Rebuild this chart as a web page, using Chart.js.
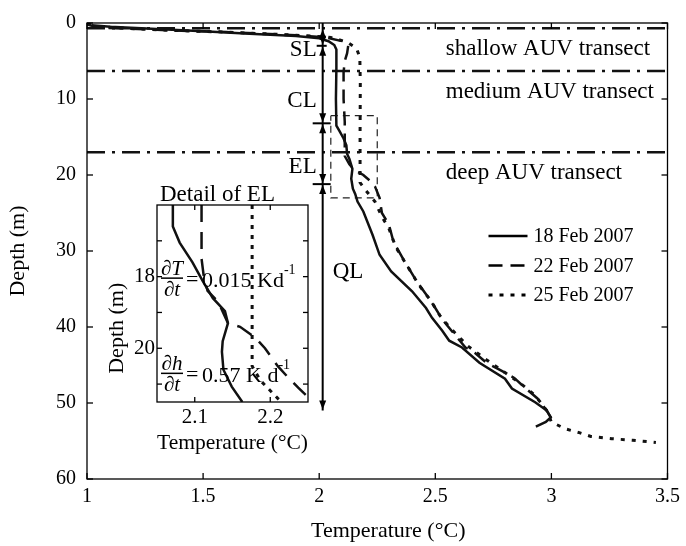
<!DOCTYPE html>
<html>
<head>
<meta charset="utf-8">
<script src="https://cdn.jsdelivr.net/npm/chart.js@4.4.1/dist/chart.umd.min.js"></script>
<style>
  body { margin: 0; background: #fff; }
  #wrap { position: relative; width: 686px; height: 546px; }
  #main { position: absolute; left: 0; top: 0; }
  #inset { position: absolute; left: 100px; top: 180px; }
</style>
</head>
<body>
<div id="wrap">
  <canvas id="main" width="686" height="546"></canvas>
  <canvas id="inset" width="215" height="282"></canvas>
</div>
<script>
// Main axes
const tempTicks = [1, 1.5, 2, 2.5, 3, 3.5];
const depthTicks = [0, 10, 20, 30, 40, 50, 60];

// Temperature profiles (T in degC, depth in m)
const feb18Temp  = [1.02, 1.10, 1.30, 1.50, 1.70, 1.90, 2.00, 2.04, 2.065, 2.074, 2.074, 2.072, 2.074, 2.087, 2.105, 2.117, 2.12, 2.13, 2.143, 2.138, 2.145, 2.155, 2.165, 2.19, 2.23, 2.26, 2.31, 2.40, 2.46, 2.486, 2.53, 2.56, 2.615, 2.69, 2.80, 2.83, 2.93, 2.98, 2.997, 2.976, 2.933];
const feb18Depth = [0.3, 0.5, 0.8, 1.1, 1.4, 1.7, 2.0, 2.4, 2.9, 3.5, 6, 10, 13.5, 14.2, 15.2, 16.1, 17.2, 17.9, 19.2, 20.5, 21.8, 22.5, 23.5, 24.8, 27.9, 30.5, 32.7, 35.3, 37.5, 38.8, 40.5, 41.8, 42.7, 44.7, 46.8, 48.1, 49.9, 51, 51.9, 52.5, 53.1];

const feb22Temp  = [1.00, 1.05, 1.30, 1.60, 1.90, 2.03, 2.10, 2.125, 2.12, 2.11, 2.105, 2.105, 2.11, 2.11, 2.11, 2.13, 2.15, 2.19, 2.22, 2.24, 2.26, 2.27, 2.30, 2.32, 2.37, 2.42, 2.46, 2.50, 2.53, 2.57, 2.63, 2.67, 2.72, 2.77, 2.84, 2.89, 2.94, 2.98, 3.00];
const feb22Depth = [0.2, 0.6, 0.9, 1.2, 1.6, 1.9, 2.4, 3.0, 4.0, 5.0, 6.5, 10, 13, 16, 17.5, 18.6, 19.3, 20, 20.8, 21.5, 23, 25, 26.5, 28.8, 31.5, 34, 35.7, 37.5, 39, 40.5, 42.7, 43.4, 44.7, 45.5, 46.7, 48.1, 49.4, 51, 52];

const feb25Temp  = [1.00, 1.05, 1.30, 1.60, 1.90, 2.05, 2.12, 2.16, 2.175, 2.177, 2.176, 2.176, 2.20, 2.24, 2.27, 2.30, 2.33, 2.38, 2.43, 2.48, 2.52, 2.56, 2.64, 2.72, 2.80, 2.87, 2.93, 2.98, 3.00, 3.06, 3.12, 3.17, 3.26, 3.35, 3.45];
const feb25Depth = [0.1, 0.5, 0.9, 1.2, 1.6, 1.9, 2.5, 3.3, 4.5, 8, 15, 21, 22, 23.5, 25.5, 27, 29.5, 32, 34.5, 36.5, 38.5, 40, 42.5, 44.3, 46, 47.5, 49, 51, 52.5, 53.4, 53.9, 54.4, 54.7, 54.9, 55.2];

const seriesLabels = ['18 Feb 2007', '22 Feb 2007', '25 Feb 2007'];

// AUV transects and layers
const transectDepths = [0.7, 6.3, 17];
const transectNames = ['shallow AUV transect', 'medium AUV transect', 'deep AUV transect'];
const layerTemp = 2.015;
const layerBounds = [0.7, 3.0, 13.2, 21.2, 51];
const layerNames = ['SL', 'CL', 'EL', 'QL'];
const layerLabelDepth = [3.5, 10.2, 19, 32.8];

// Area shown in the detail
const boxTemp = [2.05, 2.25];
const boxDepth = [12.2, 23];

// Inset (detail of EL)
const insetTempTicks = [2.1, 2.2];
const insetDepthTicks = [17, 18, 19, 20, 21];
const insetDepthLabels = [18, 20];
const insetFeb18Temp  = [2.071, 2.071, 2.08, 2.097, 2.111, 2.124, 2.14, 2.144, 2.137, 2.136, 2.138, 2.149, 2.163];
const insetFeb18Depth = [16.0, 16.6, 17.05, 17.6, 18.14, 18.6, 18.96, 19.3, 19.8, 20.1, 20.6, 21.07, 21.5];
const insetFeb22Temp  = [2.109, 2.109, 2.112, 2.117, 2.131, 2.144, 2.16, 2.18, 2.193, 2.21, 2.223, 2.237, 2.247, 2.255];
const insetFeb22Depth = [16.0, 17.5, 18.0, 18.4, 18.7, 19.3, 19.4, 19.7, 20.0, 20.5, 20.8, 21.1, 21.3, 21.45];
const insetFeb25Temp  = [2.176, 2.176, 2.187, 2.21, 2.215];
const insetFeb25Depth = [16.0, 20.5, 20.9, 21.4, 21.5];

const SERIF = '"Liberation Serif", "Times New Roman", serif';
Chart.defaults.font.family = SERIF;
Chart.defaults.color = '#000';

const pts = (t, d) => t.map((v, i) => ({ x: v, y: d[i] }));

const solidStyle  = { borderColor: '#111', borderWidth: 2.5, borderDash: [] };
const dashedStyle = { borderColor: '#111', borderWidth: 2.5, borderDash: [14, 8] };
const dottedStyle = { borderColor: '#111', borderWidth: 3, borderDash: [4, 7] };

function line(ctx, x1, y1, x2, y2) {
    ctx.beginPath(); ctx.moveTo(x1, y1); ctx.lineTo(x2, y2); ctx.stroke();
}

// box round the plot with inward ticks
const frame = {
    id: 'frame',
    afterDatasetsDraw(chart, args, opts) {
        const { ctx, chartArea: a, scales: { x, y } } = chart;
        const t = opts.tick || 5;
        ctx.save();
        ctx.strokeStyle = '#000';
        ctx.lineWidth = 1.3;
        ctx.setLineDash([]);
        ctx.strokeRect(a.left, a.top, a.right - a.left, a.bottom - a.top);
        x.ticks.forEach(tk => {
            const px = x.getPixelForValue(tk.value);
            line(ctx, px, a.bottom, px, a.bottom - t);
            line(ctx, px, a.top, px, a.top + t);
        });
        y.ticks.forEach(tk => {
            const py = y.getPixelForValue(tk.value);
            line(ctx, a.left, py, a.left + t, py);
            line(ctx, a.right, py, a.right - t, py);
        });
        ctx.restore();
    }
};

function arrowHead(ctx, px, py, dir) {
    ctx.beginPath();
    ctx.moveTo(px, py);
    ctx.lineTo(px - 3.5, py - dir * 9);
    ctx.lineTo(px + 3.5, py - dir * 9);
    ctx.closePath();
    ctx.fill();
}

const mainNotes = {
    id: 'mainNotes',
    afterDatasetsDraw(chart) {
        const { ctx, chartArea: a, scales: { x, y } } = chart;
        ctx.save();
        ctx.fillStyle = '#000';
        ctx.strokeStyle = '#000';

        // transect names
        ctx.font = '23px ' + SERIF;
        ctx.textAlign = 'left';
        ctx.textBaseline = 'middle';
        transectDepths.forEach((d, i) => {
            ctx.fillText(transectNames[i], x.getPixelForValue(2.545), y.getPixelForValue(d) + 21);
        });

        // layer arrow
        const ax = x.getPixelForValue(layerTemp);
        ctx.lineWidth = 2;
        line(ctx, ax, a.top, ax, y.getPixelForValue(layerBounds[layerBounds.length - 1]));
        layerBounds.forEach((d, i) => {
            const py = y.getPixelForValue(d);
            if (i > 0) arrowHead(ctx, ax, py - 1, 1);
            if (i < layerBounds.length - 1) arrowHead(ctx, ax, py + 1, -1);
            if (i > 0 && i < layerBounds.length - 1) {
                const w = i === 1 ? 4 : 8;
                line(ctx, ax - w - 2, py, ax + w, py);
            }
        });
        ctx.font = '23px ' + SERIF;
        layerNames.forEach((n, i) => {
            const py = y.getPixelForValue(layerLabelDepth[i]);
            if (n === 'QL') {
                ctx.textAlign = 'left';
                ctx.fillText(n, ax + 10, py);
            } else {
                ctx.textAlign = 'right';
                ctx.fillText(n, ax - 6, py);
            }
        });

        // legend
        ctx.font = '20px ' + SERIF;
        ctx.textAlign = 'left';
        for (let i = 0; i < 3; i++) {
            const ds = chart.data.datasets[i];
            const ly = a.top + 213 + i * 29.5;
            ctx.lineWidth = ds.borderWidth;
            ctx.setLineDash(ds.borderDash);
            line(ctx, a.right - 179, ly, a.right - 140, ly);
            ctx.setLineDash([]);
            ctx.fillText(ds.label, a.right - 134, ly + 1);
        }
        ctx.restore();
    }
};

const transectSets = transectDepths.map(d => ({
    label: 'transect',
    data: pts([1, 3.5], [d, d]),
    showLine: true, pointRadius: 0,
    borderColor: '#111', borderWidth: 2.5, borderDash: [18, 7, 3, 7]
}));

new Chart(document.getElementById('main'), {
    type: 'scatter',
    data: {
        datasets: [
            { label: seriesLabels[0], data: pts(feb18Temp, feb18Depth), showLine: true, pointRadius: 0, ...solidStyle },
            { label: seriesLabels[1], data: pts(feb22Temp, feb22Depth), showLine: true, pointRadius: 0, ...dashedStyle },
            { label: seriesLabels[2], data: pts(feb25Temp, feb25Depth), showLine: true, pointRadius: 0, ...dottedStyle },
            { label: 'detail', data: pts([boxTemp[0], boxTemp[1], boxTemp[1], boxTemp[0], boxTemp[0]], [boxDepth[0], boxDepth[0], boxDepth[1], boxDepth[1], boxDepth[0]]),
              showLine: true, pointRadius: 0, borderColor: '#222', borderWidth: 1.2, borderDash: [7, 5] },
            ...transectSets
        ]
    },
    options: {
        responsive: false,
        animation: false,
        events: [],
        layout: { padding: { top: 20, right: 17, left: 0, bottom: 0 } },
        plugins: { legend: { display: false }, tooltip: { enabled: false }, frame: { tick: 6 } },
        scales: {
            x: {
                type: 'linear', min: 1, max: 3.5,
                afterBuildTicks: s => { s.ticks = tempTicks.map(v => ({ value: v })); },
                afterFit: s => { s.height = 67; },
                grid: { display: false, drawTicks: false },
                border: { display: false },
                ticks: { font: { size: 20 }, padding: 6, maxRotation: 0, autoSkip: false, callback: v => String(v) },
                title: { display: true, text: '    Temperature (°C)', font: { size: 22 }, padding: { top: 0, bottom: 2 } }
            },
            y: {
                type: 'linear', reverse: true, min: 0, max: 60,
                afterBuildTicks: s => { s.ticks = depthTicks.map(v => ({ value: v })); },
                afterFit: s => { s.width = 87; },
                grid: { display: false, drawTicks: false },
                border: { display: false },
                ticks: { font: { size: 20 }, padding: 11, autoSkip: false, callback: v => String(v) },
                title: { display: true, text: 'Depth (m)', font: { size: 22 }, padding: { top: 5, bottom: 0 } }
            }
        }
    },
    plugins: [frame, mainNotes]
});

// inset: formulas and heading
function fraction(ctx, cx, by, num, den) {
    ctx.font = 'italic 21px ' + SERIF;
    ctx.textAlign = 'center';
    ctx.textBaseline = 'alphabetic';
    ctx.fillText(num, cx, by - 3);
    ctx.fillText(den, cx, by + 18);
    ctx.lineWidth = 1.5;
    line(ctx, cx - 11, by, cx + 11, by);
}

function rate(ctx, cx, by, num, value, unit) {
    fraction(ctx, cx, by, num, '\u2202t');
    ctx.font = '22px ' + SERIF;
    ctx.textAlign = 'left';
    ctx.fillText('=', cx + 14, by + 8);
    const vx = cx + 30;
    ctx.fillText(value + unit, vx, by + 9);
    const w = ctx.measureText(value + unit).width;
    ctx.font = '14px ' + SERIF;
    ctx.fillText('-1', vx + w, by - 4);
}

const insetNotes = {
    id: 'insetNotes',
    afterDatasetsDraw(chart) {
        const { ctx, chartArea: a, scales: { y } } = chart;
        ctx.save();
        ctx.fillStyle = '#000';
        ctx.strokeStyle = '#000';
        ctx.font = '23px ' + SERIF;
        ctx.textAlign = 'left';
        ctx.textBaseline = 'alphabetic';
        ctx.fillText('Detail of EL', a.left + 3, a.top - 4);
        rate(ctx, a.left + 15, y.getPixelForValue(18) + 1.5, '\u2202T', '0.015 ', 'Kd');
        rate(ctx, a.left + 15, y.getPixelForValue(20.7), '\u2202h', '0.57 ', 'K d');
        ctx.restore();
    }
};

new Chart(document.getElementById('inset'), {
    type: 'scatter',
    data: {
        datasets: [
            { label: seriesLabels[0], data: pts(insetFeb18Temp, insetFeb18Depth), showLine: true, pointRadius: 0, ...solidStyle },
            { label: seriesLabels[1], data: pts(insetFeb22Temp, insetFeb22Depth), showLine: true, pointRadius: 0, ...dashedStyle, borderDash: [17, 10] },
            { label: seriesLabels[2], data: pts(insetFeb25Temp, insetFeb25Depth), showLine: true, pointRadius: 0, ...dottedStyle, borderDash: [4, 6] }
        ]
    },
    options: {
        responsive: false,
        animation: false,
        events: [],
        layout: { padding: { top: 25, right: 7, left: 0, bottom: 0 } },
        plugins: { legend: { display: false }, tooltip: { enabled: false }, frame: { tick: 5 } },
        scales: {
            x: {
                type: 'linear', min: 2.05, max: 2.25,
                afterBuildTicks: s => { s.ticks = insetTempTicks.map(v => ({ value: v })); },
                afterFit: s => { s.height = 60; },
                grid: { display: false, drawTicks: false },
                border: { display: false },
                ticks: { font: { size: 21 }, padding: 3, maxRotation: 0, autoSkip: false, callback: v => String(v) },
                title: { display: true, text: 'Temperature (°C)', font: { size: 22 }, padding: { top: 0, bottom: 6 } }
            },
            y: {
                type: 'linear', reverse: true, min: 16, max: 21.5,
                afterBuildTicks: s => { s.ticks = insetDepthTicks.map(v => ({ value: v })); },
                afterFit: s => { s.width = 57; },
                grid: { display: false, drawTicks: false },
                border: { display: false },
                ticks: { font: { size: 21 }, padding: 2, autoSkip: false,
                         callback: v => insetDepthLabels.includes(v) ? String(v) : '' },
                title: { display: true, text: 'Depth (m)         ', font: { size: 22 }, padding: { top: 4, bottom: 0 } }
            }
        }
    },
    plugins: [frame, insetNotes]
});
</script>
</body>
</html>
